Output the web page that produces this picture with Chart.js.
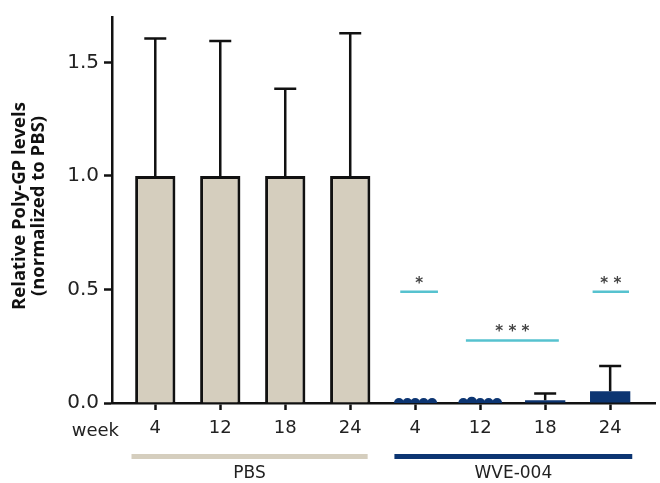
<!DOCTYPE html>
<html><head><meta charset="utf-8">
<script src="https://cdn.jsdelivr.net/npm/chart.js@4.4.1/dist/chart.umd.min.js"></script>
<style>html,body{margin:0;padding:0;background:#fff}canvas{display:block}</style>
</head><body>
<canvas id="c" width="660" height="483"></canvas>
<script>
// ---- data ----
const weekLabels = ['4','12','18','24','4','12','18','24'];
const xPositions = [1,2,3,4,5,6,7,8];
const groupNames = ['PBS','WVE-004'];
const groupStart = [0.634, 4.68];
const groupEnd = [4.268, 8.34];
const pbsX = [1,2,3,4];
const pbsMeans = [1,1,1,1];
const pbsErrTop = [1.605,1.594,1.384,1.628];
const wveX = [5,6,7,8];
const wveMeans = [0.001,0.003,0.012,0.052];
const wveErrTop = [null,null,0.042,0.163];
const wve4DotsX = [4.75,4.88,5.0,5.13,5.26];
const wve4DotsY = [0,0,0,0,0];
const wve12DotsX = [5.74,5.87,6.0,6.13,6.26];
const wve12DotsY = [0,0.006,0,0,0];
const sigStart = [4.77,5.78,7.73];
const sigEnd = [5.35,7.21,8.29];
const sigY = [0.49,0.275,0.49];
const sigText = ['*','***','**'];
const yTickValues = [0,0.5,1.0,1.5];

const PBS_COLOR = '#d5cebe';
const NAVY = '#0c3572';
const CYAN = '#56c2cf';

const overlay = {
  id:'overlay',
  afterDatasetsDraw(chart){
    const {ctx, scales:{x,y}} = chart;
    ctx.save();
    ctx.strokeStyle = '#111'; ctx.lineWidth = 2.5; ctx.lineCap = 'butt';
    const drawErr = (xs, means, tops) => {
      xs.forEach((xv,i) => {
        if (tops[i] == null) return;
        const px = x.getPixelForValue(xv);
        const y0 = y.getPixelForValue(means[i]);
        const y1 = y.getPixelForValue(tops[i]);
        ctx.beginPath();
        ctx.moveTo(px, y0); ctx.lineTo(px, y1);
        ctx.moveTo(px-11, y1); ctx.lineTo(px+11, y1);
        ctx.stroke();
      });
    };
    drawErr(pbsX, pbsMeans, pbsErrTop);
    drawErr(wveX, wveMeans, wveErrTop);
    // significance stars
    ctx.fillStyle = '#444';
    ctx.font = 'bold 15px "DejaVu Sans"';
    ctx.textAlign = 'center'; ctx.textBaseline = 'middle';
    sigText.forEach((t,i) => {
      const px = (x.getPixelForValue(sigStart[i]) + x.getPixelForValue(sigEnd[i]))/2;
      ctx.fillText(t.split('').join(' '), px, y.getPixelForValue(sigY[i]) - 8);
    });
    ctx.restore();
  },
  afterDraw(chart){
    const {ctx, scales:{x,y}} = chart;
    ctx.save();
    // group bars and labels
    const gColors = [PBS_COLOR, NAVY];
    groupNames.forEach((g,i) => {
      const x0 = x.getPixelForValue(groupStart[i]);
      const x1 = x.getPixelForValue(groupEnd[i]);
      ctx.fillStyle = gColors[i];
      ctx.fillRect(x0, 454, x1-x0, 5);
      ctx.fillStyle = '#222';
      ctx.font = '17px "DejaVu Sans"';
      ctx.textAlign = 'center'; ctx.textBaseline = 'middle';
      ctx.fillText(g, (x0+x1)/2, 474);
    });
    // week label
    ctx.font = '18px "DejaVu Sans"';
    ctx.textAlign = 'right'; ctx.textBaseline = 'middle';
    ctx.fillStyle = '#222';
    ctx.fillText('week', 119, 431);
    // y title
    ctx.save();
    ctx.translate(20, 206);
    ctx.rotate(-Math.PI/2);
    ctx.font = 'bold 18.5px "Open Sans"';
    ctx.textAlign = 'center'; ctx.textBaseline = 'middle';
    ctx.fillStyle = '#111';
    ctx.fillText('Relative Poly-GP levels', 0, 0);
    ctx.fillText('(normalized to PBS)', 0, 19);
    ctx.restore();
    ctx.restore();
  }
};

const sigDatasets = sigStart.map((s,i) => ({
  type:'line',
  data:[{x:s,y:sigY[i]},{x:sigEnd[i],y:sigY[i]}],
  borderColor: CYAN, borderWidth: 2.5, pointRadius: 0, fill:false, order: 0
}));

new Chart(document.getElementById('c'), {
  type:'bar',
  data:{
    datasets:[
      {
        label:'PBS',
        data: pbsX.map((xv,i)=>({x:xv, y:pbsMeans[i]})),
        backgroundColor: PBS_COLOR, borderColor:'#111', borderWidth: 3,
        borderSkipped: 'start', grouped:false,
        barPercentage: 0.62, categoryPercentage: 1, order: 3
      },
      {
        label:'WVE-004',
        data: wveX.map((xv,i)=>({x:xv, y:wveMeans[i]})),
        backgroundColor: NAVY, borderWidth: 0, grouped:false,
        barPercentage: 0.62, categoryPercentage: 1, order: 3
      },
      {
        type:'scatter', label:'wk4',
        data: wve4DotsX.map((xv,i)=>({x:xv, y:wve4DotsY[i]})),
        backgroundColor: NAVY, borderColor: NAVY, pointRadius: 5, borderWidth: 0, order: 1
      },
      {
        type:'scatter', label:'wk12',
        data: wve12DotsX.map((xv,i)=>({x:xv, y:wve12DotsY[i]})),
        backgroundColor: NAVY, borderColor: NAVY, pointRadius: 5, borderWidth: 0, order: 1
      },
      ...sigDatasets
    ]
  },
  options:{
    responsive:false, devicePixelRatio:1, animation:false,
    layout:{padding:{top:13, right:0, left:0, bottom:0}},
    plugins:{legend:{display:false}, tooltip:{enabled:false}},
    scales:{
      x:{
        type:'linear', min:0.334, max:8.69, offset:false,
        afterBuildTicks(scale){ scale.ticks = xPositions.map(v=>({value:v})); },
        afterFit(scale){ scale.height = 80; },
        border:{display:true, color:'#111', width:2.5},
        grid:{display:true, offset:false, drawOnChartArea:false, drawTicks:true, tickLength:7, tickWidth:2.5, tickColor:'#111'},
        ticks:{
          autoSkip:false, maxRotation:0, padding:8, color:'#222',
          font:{family:'DejaVu Sans', size:18},
          callback:(v,i)=>weekLabels[i]
        }
      },
      y:{
        min:0, max:1.7,
        afterBuildTicks(scale){ scale.ticks = yTickValues.map(v=>({value:v})); },
        afterFit(scale){ scale.width = 112; },
        border:{display:true, color:'#111', width:2.5},
        grid:{display:true, drawOnChartArea:false, drawTicks:true, tickLength:8, tickWidth:2.5, tickColor:'#111'},
        ticks:{
          padding:5, color:'#222',
          font:{family:'DejaVu Sans', size:20},
          callback:(v)=>Number(v).toFixed(1)
        }
      }
    }
  },
  plugins:[overlay]
});
</script>
</body></html>
